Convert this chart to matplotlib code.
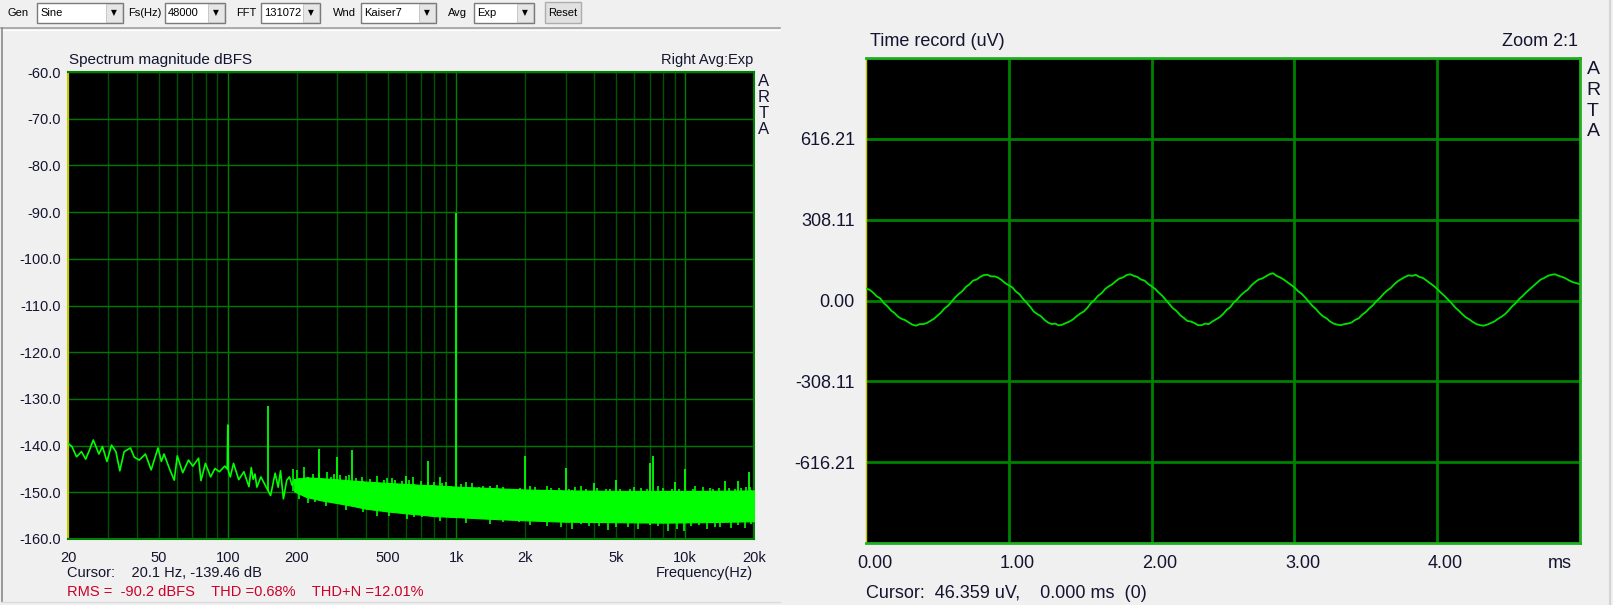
import numpy as np
import matplotlib
matplotlib.use('Agg')
import matplotlib.pyplot as plt
from matplotlib.patches import Rectangle
from matplotlib.lines import Line2D

plt.rcParams['font.family'] = ['Liberation Sans', 'DejaVu Sans']

W, H = 1613, 605
txt = '#141430'

# ---- spectrum data ----
lf_freq = [20, 20.8, 21.8, 22.9, 23.9, 24.8, 25.8, 27.3, 28.3, 29.6, 31.0, 32.4, 33.7, 35.2,
           37.5, 39.0, 41.0, 43.6, 46.2, 49.5, 51.2, 52.6, 55.8, 58.3, 60.1, 63.5, 67.3, 70.3,
           74.5, 76.3, 79.8, 84.1, 87.8, 91.9, 96.9, 99.4, 100.0, 100.6, 102.5, 105.9, 111.6,
           117.5, 123.7, 126.6, 129.0, 131.5, 134.0, 139.5, 144.0, 153.8, 161.0, 166.0, 170.0,
           175.0, 181.0, 186.0, 191.0, 196.0, 202.0]
lf_db = [-139.5, -140.2, -142.4, -141.3, -142.9, -141.0, -138.8, -141.8, -140.2, -143.4, -139.9,
         -141.3, -145.4, -141.3, -140.5, -142.5, -143.1, -141.8, -145.2, -140.5, -143.4, -141.8,
         -145.2, -147.4, -142.2, -145.8, -143.1, -144.4, -142.7, -147.5, -143.8, -146.7, -144.9,
         -145.6, -144.4, -145.0, -135.6, -145.5, -146.7, -143.8, -147.3, -145.6, -148.8, -144.7,
         -147.2, -146.1, -148.9, -146.7, -148.0, -150.7, -145.9, -148.9, -145.4, -151.4, -147.4,
         -146.7, -148.5, -147.3, -149.6]

core_freq = [195, 220, 260, 300, 350, 400, 500, 600, 700, 800, 1000, 1300, 1600, 2000, 3000,
             5000, 8000, 12000, 20000]
core_hi = [-147.2, -146.8, -147.0, -147.2, -147.5, -147.7, -148.0, -148.2, -148.4, -148.5,
           -148.8, -149.0, -149.2, -149.4, -149.6, -149.7, -149.7, -149.7, -149.6]
core_lo = [-149.8, -151.0, -151.8, -152.3, -152.9, -153.5, -154.1, -154.5, -154.8, -155.1,
           -155.3, -155.6, -155.8, -156.0, -156.3, -156.4, -156.5, -156.4, -156.2]

hair_up_freq = [193, 200, 216, 235, 250, 272, 282, 290, 310, 330, 340, 365, 385, 420, 450, 480,
                498, 520, 540, 580, 620, 647, 700, 750, 800, 860, 900, 1050, 1100, 1165, 1300,
                1400, 1500, 1600, 1702, 1900, 2100, 2200, 2477, 2600, 2800, 3100, 3300, 3500,
                3700, 4100, 4498, 4700, 5200, 5728, 6000, 6400, 6800, 7600, 8013, 8800, 9400,
                10800, 11000, 12000, 12800, 13200, 14090, 15500, 16500, 17500, 18500, 19300]
hair_up_db = [-145.1, -145.2, -144.6, -146.0, -145.8, -145.6, -146.7, -146.0, -146.2, -146.5,
              -146.4, -147.0, -146.8, -147.2, -146.5, -147.4, -147.0, -147.0, -147.4, -147.6,
              -147.4, -146.8, -147.6, -147.9, -147.8, -148.0, -147.9, -148.3, -147.9, -148.1,
              -148.6, -148.6, -148.4, -148.9, -149.2, -149.0, -148.7, -148.8, -148.6, -149.0,
              -149.0, -149.2, -148.9, -148.7, -149.3, -149.1, -149.3, -149.3, -149.2, -149.3,
              -148.8, -149.0, -149.3, -148.7, -149.1, -149.4, -149.2, -149.2, -148.6, -148.9,
              -149.0, -149.3, -149.1, -149.1, -149.2, -149.0, -148.9, -148.8]
hair_dn_freq = [205, 225, 240, 270, 311, 330, 360, 390, 418, 450, 508, 560, 610, 650, 703, 780,
                850, 950, 1100, 1250, 1400, 1600, 1880, 2100, 2300, 2500, 2860, 3200, 3500, 3800,
                4200, 4600, 5000, 5600, 6200, 7000, 7600, 8430, 9200, 9900, 10600, 11500, 12500,
                13500, 14200, 15800, 17000, 18200, 19500]
hair_dn_db = [-151.5, -152.2, -152.0, -153.0, -152.4, -153.8, -152.8, -154.2, -153.0, -155.0,
              -155.0, -154.5, -155.8, -155.3, -155.2, -155.0, -156.2, -155.4, -156.5, -155.8,
              -156.8, -156.4, -156.4, -157.0, -156.2, -157.2, -157.4, -157.8, -156.8, -157.2,
              -157.3, -158.0, -157.5, -157.4, -157.8, -156.9, -157.3, -158.2, -157.8, -158.2,
              -157.3, -157.0, -157.9, -157.4, -157.4, -157.6, -157.0, -157.6, -156.8]

spike_freq = [150, 250, 300, 350, 600, 750, 850, 1000, 2000, 3000, 4000, 5000, 7000, 7250,
              9000, 10000, 15000, 17000, 19000]
spike_db = [-131.5, -140.7, -142.5, -141.0, -146.5, -143.4, -146.8, -90.2, -142.2, -144.8,
            -148.1, -147.4, -143.7, -142.2, -147.7, -145.0, -147.6, -147.6, -145.7]

freq_ticks = [20, 50, 100, 200, 500, 1000, 2000, 5000, 10000, 20000]
freq_labels = ['20', '50', '100', '200', '500', '1k', '2k', '5k', '10k', '20k']
db_ticks = list(range(-160, -59, 10))

# ---- time record data ----
t_ms = np.arange(201) * 0.025
volt_uv = [46, 41, 30, 16, 8, -10, -22, -38, -48, -62, -70, -75, -84, -92, -96, -90, -90, -86, -78, -70,
           -58, -46, -30, -20, -4, 12, 25, 36, 52, 62, 76, 80, 90, 97, 98, 92, 92, 87, 78, 66,
           58, 50, 34, 24, 6, -8, -24, -42, -52, -60, -74, -84, -90, -88, -95, -92, -86, -80, -72, -60,
           -50, -42, -28, -10, 2, 18, 28, 44, 54, 62, 74, 84, 88, 97, 100, 94, 90, 80, 76, 64,
           54, 44, 30, 18, 2, -14, -30, -40, -56, -66, -78, -80, -86, -94, -94, -88, -90, -80, -72, -64,
           -52, -36, -26, -8, 4, 20, 32, 42, 58, 70, 80, 84, 92, 100, 104, 94, 88, 80, 70, 60,
           50, 36, 26, 12, -4, -20, -32, -48, -60, -68, -80, -88, -92, -94, -90, -88, -84, -74, -68, -54,
           -44, -30, -18, -2, 10, 26, 38, 48, 62, 74, 82, 90, 96, 94, 98, 90, 86, 76, 66, 56,
           44, 30, 18, 4, -10, -26, -38, -52, -64, -72, -82, -90, -94, -96, -92, -86, -80, -70, -62, -52,
           -38, -22, -10, 6, 18, 32, 44, 56, 68, 80, 86, 94, 98, 100, 94, 90, 84, 76, 70, 66,
           62]
v_ticks = [616.21, 308.11, 0.0, -308.11, -616.21]
t_ticks = [0, 1, 2, 3, 4]

fig = plt.figure(figsize=(W / 100, H / 100), dpi=100, facecolor='#f0f0f0')


def fx(x):
    return x / W


def fy(y):
    return 1 - y / H


def rect(x0, y0, x1, y1, fc, ec, lw=1.0):
    fig.add_artist(Rectangle((fx(x0), fy(y1)), fx(x1) - fx(x0), fy(y0) - fy(y1),
                             transform=fig.transFigure, facecolor=fc, edgecolor=ec, linewidth=lw))


def hline(x0, x1, y, c, lw=1.0):
    fig.add_artist(Line2D([fx(x0), fx(x1)], [fy(y), fy(y)], transform=fig.transFigure, color=c, lw=lw))


def vline(x, y0, y1, c, lw=1.0):
    fig.add_artist(Line2D([fx(x), fx(x)], [fy(y0), fy(y1)], transform=fig.transFigure, color=c, lw=lw))


# ---- toolbar ----
for lab, x in [('Gen', 8), ('Fs(Hz)', 128), ('FFT', 236), ('Wnd', 333), ('Avg', 448)]:
    fig.text(fx(x), fy(13), lab, fontsize=8, color='#000000', va='center', ha='left')
for x0, x1, val in [(37, 123, 'Sine'), (165, 225, '48000'), (261, 320, '131072'),
                    (361, 436, 'Kaiser7'), (474, 534, 'Exp')]:
    rect(x0, 3, x1, 23, 'white', '#7a7a7a')
    rect(x1 - 17, 4.5, x1 - 1.5, 21.5, '#e6e6e6', '#c0c0c0', 0.6)
    fig.text(fx(x0 + 3), fy(13), val, fontsize=8, color='#000000', va='center', ha='left')
    fig.text(fx(x1 - 9), fy(13), '\u25bc', fontsize=5.5, color='#000000', va='center', ha='center',
             family=['DejaVu Sans'])
rect(545, 2, 581, 23, '#e1e1e1', '#adadad')
fig.text(fx(563), fy(13), 'Reset', fontsize=8, color='#000000', va='center', ha='center')

# panel frames
hline(1, 780, 28, '#a0a0a0', 1.2)
hline(1, 780, 29.5, '#ffffff', 0.8)
vline(2, 28, 602, '#8a8a8a', 1.2)
hline(1, 780, 602, '#dcdcdc', 1.0)
vline(1610, 0, 605, '#d4d4d4', 1.5)

# ---- spectrum panel ----
ax1 = fig.add_axes([fx(68), fy(539), fx(754) - fx(68), fy(72) - fy(539)])
ax1.set_facecolor('black')
ax1.set_xscale('log')
ax1.set_xlim(20, 20000)
ax1.set_ylim(-160, -60)

grid_freqs = np.concatenate([np.arange(20, 100, 10), np.arange(100, 1000, 100),
                             np.arange(1000, 10000, 1000), [10000, 20000]])
for f in grid_freqs:
    major = f in (100, 1000, 10000)
    ax1.axvline(f, color='#008000' if major else '#005200', lw=1.0, zorder=1)
for d in db_ticks:
    ax1.axhline(d, color='#007800', lw=1.0, zorder=1)

green = '#00ff00'
ax1.fill_between(core_freq, core_lo, core_hi, color=green, lw=0.8, zorder=3)
ax1.plot(lf_freq, lf_db, color=green, lw=1.2, zorder=4)
lc = np.log10(core_freq)
up_base = np.interp(np.log10(hair_up_freq), lc, core_lo)
ax1.vlines(hair_up_freq, up_base, hair_up_db, color=green, lw=1.2, zorder=3)
dn_base = np.interp(np.log10(hair_dn_freq), lc, core_hi)
ax1.vlines(hair_dn_freq, dn_base, hair_dn_db, color=green, lw=1.2, zorder=3)
spike_base = np.interp(np.log10(spike_freq), lc, core_lo)
ax1.vlines(spike_freq, spike_base, spike_db, color=green, lw=1.3, zorder=4)

ax1.set_xticks(freq_ticks)
ax1.set_xticklabels(freq_labels)
ax1.xaxis.set_minor_locator(matplotlib.ticker.NullLocator())
ax1.set_yticks(db_ticks)
ax1.set_yticklabels(['%.1f' % d for d in db_ticks])
ax1.tick_params(length=0, labelsize=10.5, colors=txt)
ax1.tick_params(axis='x', pad=9)
ax1.tick_params(axis='y', pad=5)
for s in ax1.spines.values():
    s.set_color('#008000')
    s.set_linewidth(1.5)
ax1.spines['left'].set_color('#c8c800')

fig.text(fx(69), fy(60), 'Spectrum magnitude dBFS', fontsize=11, color=txt, va='center', ha='left')
fig.text(fx(753), fy(60), 'Right Avg:Exp', fontsize=10.5, color=txt, va='center', ha='right')
for i, ch in enumerate('ARTA'):
    fig.text(fx(764), fy(81 + 16 * i), ch, fontsize=12, color=txt, va='center', ha='center')
fig.text(fx(67), fy(573), 'Cursor:    20.1 Hz, -139.46 dB', fontsize=10.5, color=txt,
         va='center', ha='left')
fig.text(fx(753), fy(573), 'Frequency(Hz)', fontsize=10.5, color=txt, va='center', ha='right')
fig.text(fx(67), fy(592), 'RMS =  -90.2 dBFS    THD =0.68%    THD+N =12.01%', fontsize=10.5,
         color='#cc0028', va='center', ha='left')

# ---- time record panel ----
ax2 = fig.add_axes([fx(866), fy(543), fx(1580) - fx(866), fy(58) - fy(543)])
ax2.set_facecolor('black')
ax2.set_xlim(0, 5)
ax2.set_ylim(-924.32, 924.32)
for t in t_ticks[1:]:
    ax2.axvline(t, color='#008000', lw=2, zorder=1)
for v in v_ticks:
    ax2.axhline(v, color='#008000', lw=2, zorder=1)
ax2.plot(t_ms, volt_uv, color='#00e000', lw=1.3, zorder=3)

ax2.set_xticks([])
ax2.set_yticks(v_ticks)
ax2.set_yticklabels(['%.2f' % v for v in v_ticks])
ax2.tick_params(length=0, labelsize=13, colors=txt, pad=8)
for s in ax2.spines.values():
    s.set_color('#20b020')
    s.set_linewidth(2)
ax2.spines['left'].set_color('#c8c800')
ax2.spines['left'].set_linewidth(1)

for t in t_ticks:
    fig.text(fx(874.5 + t * 142.7), fy(564), '%.2f' % t, fontsize=13, color=txt,
             va='center', ha='center')
fig.text(fx(1572), fy(564), 'ms', fontsize=13, color=txt, va='center', ha='right')
fig.text(fx(870), fy(42), 'Time record (uV)', fontsize=13, color=txt, va='center', ha='left')
fig.text(fx(1578), fy(42), 'Zoom 2:1', fontsize=13, color=txt, va='center', ha='right')
for i, ch in enumerate('ARTA'):
    fig.text(fx(1593), fy(70 + 20.5 * i), ch, fontsize=14, color=txt, va='center', ha='center')
fig.text(fx(866), fy(593), 'Cursor:  46.359 uV,    0.000 ms  (0)', fontsize=13, color=txt,
         va='center', ha='left')

plt.savefig('out.png', dpi=100, facecolor=fig.get_facecolor())
